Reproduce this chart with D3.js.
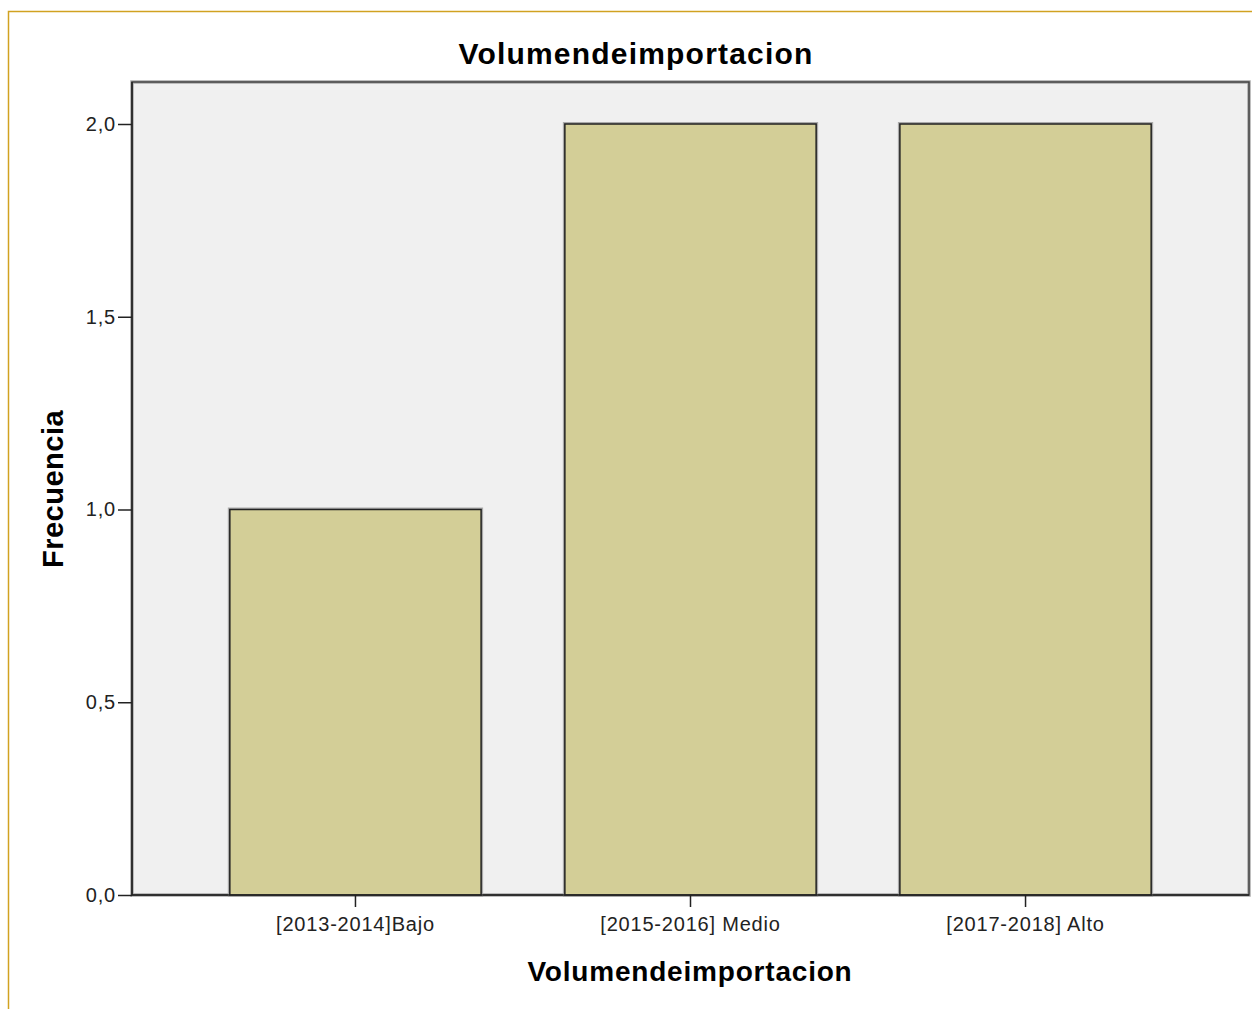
<!DOCTYPE html>
<html>
<head>
<meta charset="utf-8">
<script src="https://cdn.jsdelivr.net/npm/d3@7"></script>
<style>
  body { margin: 0; background: #fff; }
  text { font-family: "Liberation Sans", Arial, sans-serif; }
</style>
</head>
<body>
<script>
var categories = ["[2013-2014]Bajo", "[2015-2016] Medio", "[2017-2018] Alto"];
var frecuencias = [1, 2, 2];
var yTicks = [0, 0.5, 1, 1.5, 2];

var svg_width = 1252, svg_height = 1009;
var svg = d3.select("body").append("svg").attr("width", svg_width).attr("height", svg_height);

// golden outer frame (runs off the right and bottom)
svg.append("path")
    .attr("d", "M8.5," + svg_height + "V11.5H" + svg_width)
    .attr("fill", "none")
    .attr("stroke", "#d1a221")
    .attr("stroke-width", 1.5);

var margin = {top: 82, left: 132, right: 1249, bottom: 895};

var x = d3.scaleBand().domain(categories)
    .range([margin.left, margin.right])
    .paddingInner(0.25).paddingOuter(0.292);

var y = d3.scaleLinear().domain([0, 2.1]).range([margin.bottom, margin.bottom - 2.1 * 385.5]);

// plot background
svg.append("rect")
    .attr("x", margin.left).attr("y", margin.top)
    .attr("width", margin.right - margin.left).attr("height", margin.bottom - margin.top)
    .attr("fill", "#f0f0f0")
    .attr("stroke", "#aaa").attr("stroke-width", 3.5);
svg.append("rect")
    .attr("x", margin.left).attr("y", margin.top)
    .attr("width", margin.right - margin.left).attr("height", margin.bottom - margin.top)
    .attr("fill", "none")
    .attr("stroke", "#444").attr("stroke-width", 1.5);

// bar halo
svg.selectAll(".shadow")
    .data(frecuencias)
    .enter().append("rect")
      .attr("x", function(d, i) { return x(categories[i]); })
      .attr("y", function(d) { return y(d); })
      .attr("width", x.bandwidth())
      .attr("height", function(d) { return y(0) - y(d); })
      .attr("fill", "none")
      .attr("stroke", "#aaa").attr("stroke-width", 4);

svg.selectAll(".bar")
    .data(frecuencias)
    .enter().append("rect")
      .attr("class", "bar")
      .attr("x", function(d, i) { return x(categories[i]); })
      .attr("y", function(d) { return y(d); })
      .attr("width", x.bandwidth())
      .attr("height", function(d) { return y(0) - y(d); })
      .attr("fill", "#d3ce97")
      .attr("stroke", "#222").attr("stroke-width", 1.5);

// axes
var fmt = function(d) { return d3.format(".1f")(d).replace(".", ","); };

var gy = svg.append("g")
    .attr("transform", "translate(" + margin.left + ",0)")
    .call(d3.axisLeft(y).tickValues(yTicks).tickFormat(fmt).tickSize(14).tickPadding(2));
gy.select(".domain").attr("stroke", "#222").attr("stroke-width", 1.5)
    .attr("d", "M0," + margin.top + "V" + margin.bottom);
gy.selectAll(".tick line").attr("stroke", "#222").attr("stroke-width", 1.5);
gy.selectAll(".tick text").attr("fill", "#222")
    .style("font-size", "20px").style("letter-spacing", "0.8px");

var gx = svg.append("g")
    .attr("transform", "translate(0," + margin.bottom + ")")
    .call(d3.axisBottom(x).tickSize(12).tickPadding(10));
gx.select(".domain").attr("stroke", "#222").attr("stroke-width", 1.5)
    .attr("d", "M" + margin.left + ",0H" + margin.right);
gx.selectAll(".tick line").attr("stroke", "#222").attr("stroke-width", 1.5);
gx.selectAll(".tick text").attr("fill", "#222")
    .style("font-size", "20px").style("letter-spacing", "0.8px");

// titles
svg.append("text")
    .attr("x", 636).attr("y", 64)
    .attr("text-anchor", "middle")
    .style("font-size", "30px").style("font-weight", "bold")
    .style("letter-spacing", "1.2px")
    .text("Volumendeimportacion");

svg.append("text")
    .attr("x", 690).attr("y", 981)
    .attr("text-anchor", "middle")
    .style("font-size", "28px").style("font-weight", "bold")
    .style("letter-spacing", "0.8px")
    .text("Volumendeimportacion");

svg.append("text")
    .attr("transform", "translate(63,489) rotate(-90)")
    .attr("text-anchor", "middle")
    .style("font-size", "29px").style("font-weight", "bold")
    .style("letter-spacing", "0.5px")
    .text("Frecuencia");
</script>
</body>
</html>
